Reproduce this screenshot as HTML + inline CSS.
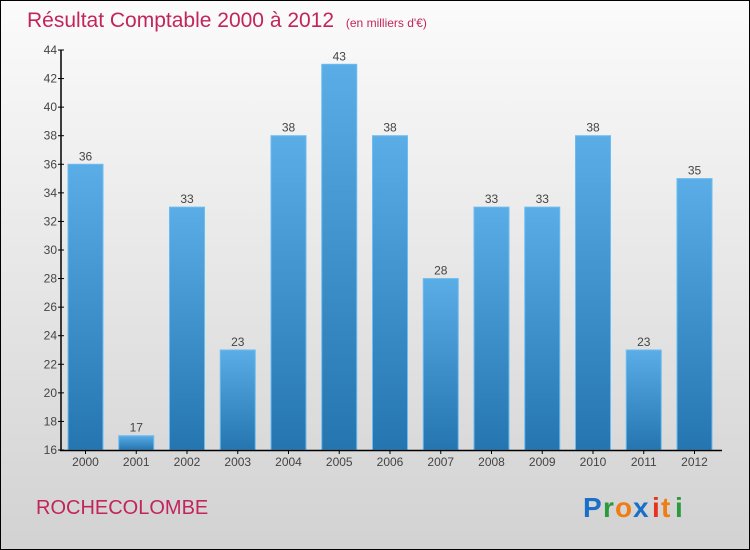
<!DOCTYPE html>
<html><head><meta charset="utf-8"><style>
body{margin:0}
svg{display:block;font-family:"Liberation Sans",sans-serif}
</style></head><body>
<svg id="c" width="750" height="550" viewBox="0 0 750 550">
<defs>
<linearGradient id="bg" x1="0" y1="0" x2="0" y2="1"><stop offset="0" stop-color="#fbfbfb"/><stop offset="1" stop-color="#d2d2d2"/></linearGradient>
<linearGradient id="bar" x1="0" y1="0" x2="0" y2="1"><stop offset="0" stop-color="#5aade6"/><stop offset="1" stop-color="#2475b0"/></linearGradient>
</defs>
<rect x="0.5" y="0.5" width="749" height="549" fill="url(#bg)" stroke="#000"/>
<text x="27" y="27" font-size="21" fill="#c2255c">Résultat Comptable 2000 à 2012 <tspan font-size="12" dx="6">(en milliers d'€)</tspan></text>
<g id="bars"></g>
<g id="axes"></g>
<text x="36" y="514" font-size="20" fill="#c2255c">ROCHECOLOMBE</text>
<g font-size="28" font-weight="bold">
<text x="583" y="517" fill="#1a6fc9">P</text><text x="603" y="517" fill="#2a9a3c">r</text><text x="615" y="517" fill="#f07d14">o</text><text x="633" y="517" fill="#1a6fc9">x</text><text x="652" y="517" fill="#e8321e">i</text><text x="661" y="517" fill="#f07d14">t</text><text x="675" y="517" fill="#2a9a3c">i</text>
</g>
</svg>
<script>
const years=["2000","2001","2002","2003","2004","2005","2006","2007","2008","2009","2010","2011","2012"];
const values=[36,17,33,23,38,43,38,28,33,33,38,23,35];
const yTicks=[16,18,20,22,24,26,28,30,32,34,36,38,40,42,44];
const NS="http://www.w3.org/2000/svg";
const y0=450,y1=50,vMin=16,vMax=44;
function ys(v){return y0-(v-vMin)/(vMax-vMin)*(y0-y1);}
function xs(i){return 85.5+i*50.75;}
const bw=35;
function mk(t,a,p){const e=document.createElementNS(NS,t);for(const k in a)e.setAttribute(k,a[k]);p.appendChild(e);return e;}
const bars=document.getElementById('bars'),axes=document.getElementById('axes');
values.forEach((v,i)=>{
 const r=mk('rect',{x:xs(i)-bw/2,y:ys(v),width:bw,height:y0-ys(v),fill:'url(#bar)',stroke:'#6cbcf0','stroke-width':1},bars);
 
 
 const t=mk('text',{x:xs(i),y:ys(v)-4,'text-anchor':'middle','font-size':12,fill:'#444'},bars);
 t.textContent=v;
 
 
 const xl=mk('text',{x:xs(i),y:466,'text-anchor':'middle','font-size':12,fill:'#444'},axes);
 xl.textContent=years[i];
 
 
 const tk=mk('line',{x1:xs(i),x2:xs(i),y1:450,y2:454,stroke:'#000'},axes);
 
 
});
const ya=mk('line',{x1:61,x2:61,y1:50,y2:451,stroke:'#000','stroke-width':1.5},axes);


const xa=mk('line',{x1:60,x2:722,y1:450.5,y2:450.5,stroke:'#000','stroke-width':1.5},axes);


yTicks.forEach(v=>{
 const tk=mk('line',{x1:58,x2:64,y1:ys(v),y2:ys(v),stroke:'#000'},axes);
 
 
 const t=mk('text',{x:57,y:ys(v)+4,'text-anchor':'end','font-size':12,fill:'#444'},axes);
 t.textContent=v;
 
 
});
</script>
</body></html>
